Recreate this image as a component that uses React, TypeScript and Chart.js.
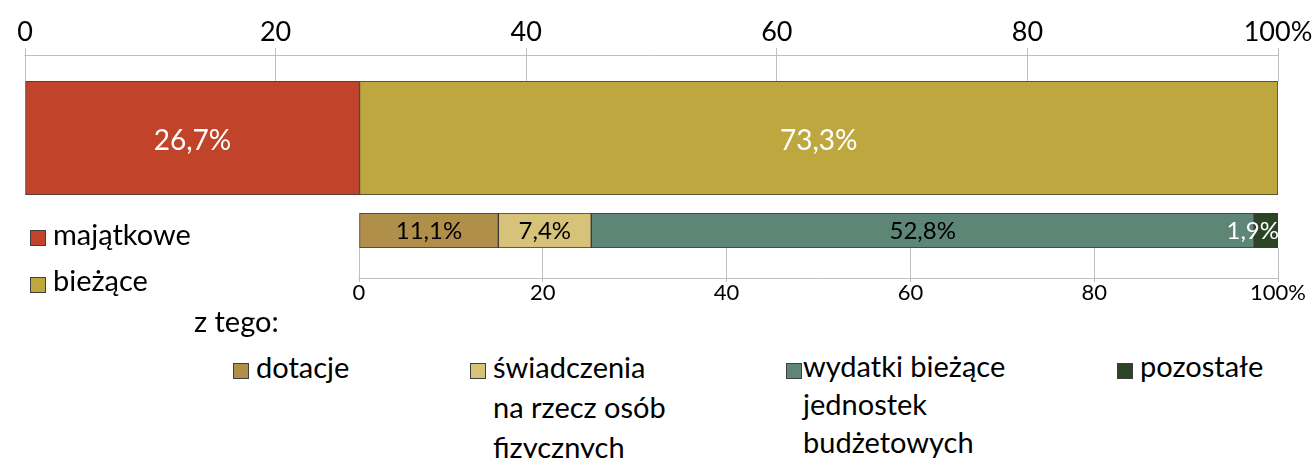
import React, { useEffect, useRef } from "react";
import { Chart, registerables } from "chart.js";

Chart.register(...registerables);

const FONT = 'Lato, "Open Sans", sans-serif';

// Top bar: structure of expenditure
const mainCategories = ["wydatki"];
const mainSeries = ["majątkowe", "bieżące"];
const mainValues = [26.7, 73.3];
const mainColors = ["#C0432A", "#BEA73F"];
const mainLabelColors = ["#FFFFFF", "#FFFFFF"];

// Lower bar: of which (share of total expenditure)
const subSeries = ["dotacje", "świadczenia na rzecz osób fizycznych", "wydatki bieżące jednostek budżetowych", "pozostałe"];
const subValues = [11.1, 7.4, 52.8, 1.9];
const subColors = ["#B08F4A", "#D7C27A", "#5E8676", "#2A4424"];
const subLabelColors = ["#000000", "#000000", "#000000", "#FFFFFF"];

const axisTicks = [0, 20, 40, 60, 80, 100];

const fmt = (v: number) => v.toFixed(1).replace(".", ",") + "%";
const tickFmt = (v: number) => (v === 100 ? "100%" : String(v));

function axisLinePlugin(offset: number, side: "top" | "bottom") {
  return {
    id: "axisLine",
    afterDraw(chart: any) {
      const { ctx, chartArea, scales } = chart;
      const x0 = scales.x.getPixelForValue(0);
      const x1 = scales.x.getPixelForValue(100);
      const y = side === "top" ? chartArea.top - offset : chartArea.bottom + offset;
      ctx.save();
      ctx.strokeStyle = "#BFBFBF";
      ctx.lineWidth = 1;
      ctx.beginPath();
      ctx.moveTo(Math.round(x0) - 0.5, Math.round(y) + 0.5);
      ctx.lineTo(Math.round(x1) + 0.5, Math.round(y) + 0.5);
      ctx.stroke();
      ctx.restore();
    },
  };
}

function labelPlugin(raw: number[], colors: string[], size: number, dy: number) {
  return {
    id: "barLabels",
    afterDatasetsDraw(chart: any) {
      const { ctx, chartArea } = chart;
      ctx.save();
      ctx.font = `${size}px ${FONT}`;
      ctx.textBaseline = "middle";
      ctx.textAlign = "center";
      chart.data.datasets.forEach((ds: any, i: number) => {
        const meta = chart.getDatasetMeta(i);
        meta.data.forEach((el: any) => {
          const text = fmt(raw[i]);
          const w = ctx.measureText(text).width;
          let cx = (el.x + el.base) / 2;
          if (cx + w / 2 > chartArea.right + 1) cx = chartArea.right + 1 - w / 2;
          ctx.fillStyle = colors[i];
          ctx.fillText(text, cx, el.y + dy);
        });
      });
      ctx.restore();
    },
  };
}

function makeXScale(position: "top" | "bottom", height: number, tickLen: number, fontSize: number, pad: number) {
  return {
    type: "linear",
    position,
    min: 0,
    max: 100,
    stacked: true,
    afterBuildTicks: (scale: any) => {
      scale.ticks = axisTicks.map((v) => ({ value: v }));
    },
    afterFit: (scale: any) => {
      scale.height = height;
    },
    ticks: {
      callback: (v: any) => tickFmt(Number(v)),
      color: "#000000",
      font: { family: FONT, size: fontSize },
      padding: pad,
      maxRotation: 0,
      autoSkip: false,
    },
    grid: {
      drawOnChartArea: false,
      drawTicks: true,
      tickLength: tickLen,
      color: "#BFBFBF",
      lineWidth: 1,
    },
    border: { display: false },
  };
}

function TopChart() {
  const ref = useRef<HTMLCanvasElement>(null);
  useEffect(() => {
    const chart = new Chart(ref.current!, {
      type: "bar",
      data: {
        labels: mainCategories,
        datasets: mainSeries.map((s, i) => ({
          label: s,
          data: [mainValues[i]],
          backgroundColor: mainColors[i],
          borderColor: "#3A3A3A",
          borderWidth: 1,
          borderSkipped: false,
          barPercentage: 1,
          categoryPercentage: 1,
        })),
      },
      options: {
        indexAxis: "y",
        responsive: false,
        animation: false,
        devicePixelRatio: 1,
        layout: { padding: { left: 25, right: 35, top: 0, bottom: 5 } },
        plugins: { legend: { display: false }, tooltip: { enabled: false } },
        scales: {
          x: makeXScale("top", 81, 33, 27, 0) as any,
          y: { stacked: true, display: false },
        },
      },
      plugins: [axisLinePlugin(26, "top"), labelPlugin(mainValues, mainLabelColors, 28, 3)],
    });
    return () => chart.destroy();
  }, []);
  return <canvas ref={ref} width={1313} height={200} style={{ position: "absolute", left: 0, top: 0 }} />;
}

function SubChart() {
  const ref = useRef<HTMLCanvasElement>(null);
  useEffect(() => {
    const total = subValues.reduce((a, b) => a + b, 0);
    const chart = new Chart(ref.current!, {
      type: "bar",
      data: {
        labels: mainCategories,
        datasets: subSeries.map((s, i) => ({
          label: s,
          data: [(subValues[i] / total) * 100],
          backgroundColor: subColors[i],
          borderColor: "#3A3A3A",
          borderWidth: 1,
          borderSkipped: false,
          barPercentage: 1,
          categoryPercentage: 1,
        })),
      },
      options: {
        indexAxis: "y",
        responsive: false,
        animation: false,
        devicePixelRatio: 1,
        layout: { padding: { left: 359, right: 35, top: 13, bottom: 0 } },
        plugins: { legend: { display: false }, tooltip: { enabled: false } },
        scales: {
          x: makeXScale("bottom", 72, 34, 22, -2) as any,
          y: { stacked: true, display: false },
        },
      },
      plugins: [axisLinePlugin(30, "bottom"), labelPlugin(subValues, subLabelColors, 24, 1)],
    });
    return () => chart.destroy();
  }, []);
  return <canvas ref={ref} width={1313} height={120} style={{ position: "absolute", left: 0, top: 200 }} />;
}

type LegendItem = { color?: string; lines: string[]; sx: number; sy: number; tx: number; base: number; lh: number };

const LEG_FS = 29;

const legendItems: LegendItem[] = [
  { color: mainColors[0], lines: ["majątkowe"], sx: 30, sy: 230, tx: 53, base: 245, lh: 38 },
  { color: mainColors[1], lines: ["bieżące"], sx: 30, sy: 277, tx: 53, base: 291, lh: 38 },
  { lines: ["z tego:"], sx: 0, sy: 0, tx: 194, base: 332, lh: 38 },
  { color: subColors[0], lines: ["dotacje"], sx: 233, sy: 363, tx: 256, base: 378, lh: 38 },
  { color: subColors[1], lines: ["świadczenia", "na rzecz osób", "fizycznych"], sx: 470, sy: 363, tx: 493, base: 378, lh: 40 },
  { color: subColors[2], lines: ["wydatki bieżące", "jednostek", "budżetowych"], sx: 786, sy: 363, tx: 803, base: 377, lh: 38 },
  { color: subColors[3], lines: ["pozostałe"], sx: 1117, sy: 363, tx: 1140, base: 377, lh: 38 },
];

function Legend() {
  // Lato: ascent 0.987em, descent 0.213em
  const content = LEG_FS * 1.2;
  return (
    <>
      {legendItems.map((it, i) => {
        const baseOff = (it.lh - content) / 2 + LEG_FS * 0.987;
        return (
          <React.Fragment key={i}>
            {it.color && (
              <div
                style={{
                  position: "absolute",
                  left: it.sx,
                  top: it.sy,
                  width: 16,
                  height: 16,
                  boxSizing: "border-box",
                  background: it.color,
                  border: "1px solid #404040",
                }}
              />
            )}
            <div
              style={{
                position: "absolute",
                left: it.tx,
                top: it.base - baseOff,
                fontFamily: FONT,
                fontSize: LEG_FS,
                lineHeight: it.lh + "px",
                color: "#000",
                whiteSpace: "nowrap",
              }}
            >
              {it.lines.map((l, j) => (
                <div key={j}>{l}</div>
              ))}
            </div>
          </React.Fragment>
        );
      })}
    </>
  );
}

export default function App() {
  return (
    <div
      style={{
        position: "absolute",
        left: 0,
        top: 0,
        width: 1313,
        height: 458,
        overflow: "hidden",
        background: "#FFFFFF",
      }}
    >
      <TopChart />
      <SubChart />
      <Legend />
    </div>
  );
}
